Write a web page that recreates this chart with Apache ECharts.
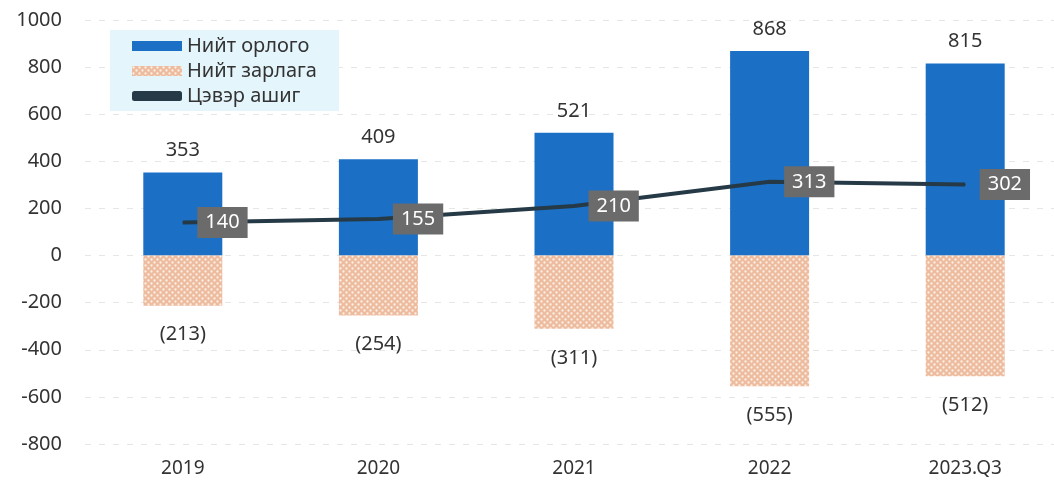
<!DOCTYPE html>
<html><head><meta charset="utf-8">
<script src="https://cdn.jsdelivr.net/npm/echarts@6/dist/echarts.min.js"></script>
<style>html,body{margin:0;padding:0;background:#fff}#c{width:1054px;height:487px}</style>
</head><body><div id="c"></div>
<script>
var categories = ['2019', '2020', '2021', '2022', '2023.Q3'];
var revenue = [353, 409, 521, 868, 815];
var expense = [-213, -254, -311, -555, -512];
var netProfit = [140, 155, 210, 313, 302];
var yTicks = {min: -800, max: 1000, interval: 200};

var FONT = '"Noto Sans", sans-serif';
var pc = document.createElement('canvas');
pc.width = 6; pc.height = 6;
var g = pc.getContext('2d');
g.fillStyle = '#edbc9f'; g.fillRect(0, 0, 6, 6);
g.fillStyle = '#fcefe6';
g.beginPath(); g.arc(1.5, 1.5, 1.15, 0, Math.PI * 2); g.fill();
g.beginPath(); g.arc(4.5, 4.5, 1.15, 0, Math.PI * 2); g.fill();
var pattern = {image: pc, repeat: 'repeat'};

var chart = echarts.init(document.getElementById('c'));
chart.setOption({
  animation: false,
  textStyle: {fontFamily: FONT},
  grid: {left: 85, width: 978, top: 20, bottom: 43, containLabel: false, outerBoundsMode: 'none'},
  legend: {
    orient: 'vertical', left: 110, top: 30,
    backgroundColor: '#e4f5fb',
    padding: [6, 22, 5, 22],
    itemWidth: 50, itemHeight: 10, itemGap: 5,
    textStyle: {fontSize: 20, color: '#333', fontFamily: FONT},
    data: [
      {name: 'Нийт орлого', icon: 'rect'},
      {name: 'Нийт зарлага', icon: 'rect'},
      {name: 'Цэвэр ашиг', icon: 'roundRect', itemStyle: {color: '#253a46'}}
    ]
  },
  xAxis: {
    type: 'category', data: categories,
    axisLine: {show: false}, axisTick: {show: false},
    axisLabel: {fontSize: 19, color: '#333', margin: 15, fontFamily: FONT}
  },
  yAxis: {
    type: 'value', min: yTicks.min, max: yTicks.max, interval: yTicks.interval,
    axisLine: {show: false}, axisTick: {show: false},
    axisLabel: {fontSize: 20, color: '#333', margin: 23, fontFamily: FONT,
      formatter: function (v) { return String(v); }},
    splitLine: {lineStyle: {color: '#e6e6e6', type: [6, 8], width: 1}}
  },
  series: [
    {
      name: 'Нийт орлого', type: 'bar', stack: 'a', data: revenue, barWidth: 79,
      itemStyle: {color: '#1b70c6'},
      label: {show: true, position: 'top', distance: 12, fontSize: 20, color: '#333', fontFamily: FONT}
    },
    {
      name: 'Нийт зарлага', type: 'bar', stack: 'a', data: expense, barWidth: 79,
      itemStyle: {color: pattern},
      label: {show: true, position: 'bottom', distance: 19, fontSize: 20, color: '#333', fontFamily: FONT,
        formatter: function (p) { return '(' + Math.abs(p.value) + ')'; }}
    },
    {
      name: 'Цэвэр ашиг', type: 'line', data: netProfit, symbol: 'circle', symbolSize: 1, showSymbol: true, z: 5,
      lineStyle: {color: '#253a46', width: 4},
      itemStyle: {color: '#253a46'},
      labelLayout: {hideOverlap: false},
      label: {show: true, position: 'right', distance: 14, fontSize: 20, color: '#fff',
        backgroundColor: '#6b6b6b', padding: [6, 8, 5, 8], fontFamily: FONT}
    }
  ]
});
</script></body></html>
